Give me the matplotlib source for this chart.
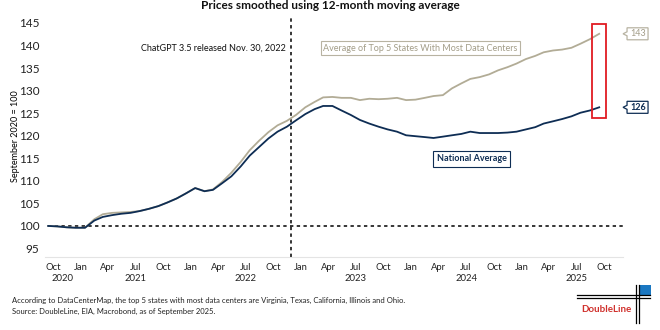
import matplotlib
matplotlib.use("Agg")
import matplotlib.pyplot as plt
import matplotlib.dates as mdates
from matplotlib.patches import Rectangle, Polygon
from matplotlib.transforms import blended_transform_factory
import numpy as np
import pandas as pd

plt.rcParams['font.family'] = ['Lato', 'DejaVu Sans']

# monthly index values, Sep 2020 = 100, 12-month moving average
months = pd.date_range('2020-09-01', '2025-09-01', freq='MS') + pd.Timedelta(days=14)
national = [100.0, 99.9, 99.7, 99.6, 99.6, 101.2, 102.0, 102.4, 102.7, 102.9,
            103.3, 103.8, 104.4, 105.2, 106.1, 107.2, 108.4, 107.7, 108.0, 109.5,
            111.0, 113.2, 115.6, 117.5, 119.4, 120.9, 122.0, 123.4, 124.8, 125.9,
            126.6, 126.6, 125.6, 124.6, 123.5, 122.7, 122.0, 121.4, 120.9, 120.1,
            119.9, 119.7, 119.5, 119.8, 120.1, 120.4, 120.9, 120.6, 120.6, 120.6,
            120.7, 120.9, 121.4, 121.9, 122.7, 123.2, 123.7, 124.3, 125.1, 125.6,
            126.3]
top5 = [100.0, 99.9, 99.7, 99.6, 99.6, 101.5, 102.6, 102.9, 103.0, 103.1,
        103.3, 103.8, 104.4, 105.2, 106.1, 107.2, 108.4, 107.7, 108.1, 109.8,
        111.8, 114.2, 116.8, 118.9, 120.8, 122.3, 123.3, 124.6, 126.3, 127.5,
        128.5, 128.6, 128.4, 128.4, 127.9, 128.2, 128.1, 128.2, 128.4, 127.9,
        128.0, 128.4, 128.8, 129.0, 130.5, 131.6, 132.6, 133.0, 133.6, 134.5,
        135.2, 136.0, 137.0, 137.7, 138.5, 138.9, 139.1, 139.5, 140.4, 141.4,
        142.6]
yticks = [95, 100, 105, 110, 115, 120, 125, 130, 135, 140, 145]
xticks = pd.date_range('2020-10-01', '2025-10-01', freq='3MS')
year_labels = ['2020', '2021', '2022', '2023', '2024', '2025']
year_pos = pd.to_datetime(['2020-11-01', '2021-07-01', '2022-07-01',
                           '2023-07-01', '2024-07-01', '2025-07-01'])
chatgpt_date = pd.Timestamp('2022-11-30')

NAVY = '#0e2d54'
TAN = '#b2ac96'
RED = '#e11b22'

fig = plt.figure(figsize=(6.6, 3.3), dpi=100)
ax = fig.add_axes([0.068, 0.221, 0.876, 0.734])

x_left = pd.Timestamp('2020-09-04')
x_right = pd.Timestamp('2025-12-03')
ax.set_xlim(x_left, x_right)
ax.set_ylim(93.1, 146.8)

ax.plot(months, top5, color=TAN, lw=1.3, zorder=3)
ax.plot(months, national, color=NAVY, lw=1.3, zorder=4)

ax.hlines(100, months[0], x_right, colors='black', linestyles=(0, (2.2, 2.2)), lw=1.1, zorder=2)
ax.axvline(chatgpt_date, color='black', ls=(0, (2.2, 2.2)), lw=1.1, zorder=2)

ax.set_yticks(yticks)
ax.set_xticks(xticks)
ax.set_xticklabels([d.strftime('%b') for d in xticks])
ax.tick_params(axis='x', length=0, labelsize=6.8, pad=4, colors='#222222')
ax.tick_params(axis='y', length=0, labelsize=8.5, pad=4, colors='#222222')
for s in ['top', 'right', 'left']:
    ax.spines[s].set_visible(False)
ax.spines['bottom'].set_color('#e4e4e4')
ax.spines['bottom'].set_linewidth(0.8)

trans = blended_transform_factory(ax.transData, ax.transAxes)
for lab, pos in zip(year_labels, year_pos):
    ax.text(pos, -0.087, lab, transform=trans, ha='center', va='center',
            fontsize=6.8, color='#222222')

ax.set_ylabel('September 2020 = 100', fontsize=6.5)
ax.yaxis.set_label_coords(-25 / 578, 0.5)

ax.text(pd.Timestamp('2022-11-10'), 139.3, 'ChatGPT 3.5 released Nov. 30, 2022',
        ha='right', va='center', fontsize=6.5, color='#111111')

ax.text(pd.Timestamp('2024-02-01'), 139.4, 'Average of Top 5 States With Most Data Centers',
        ha='center', va='center', fontsize=6.5, color='#a39d88',
        bbox=dict(boxstyle='square,pad=0.3', fc='white', ec='#b8b3a2', lw=0.8))
ax.text(pd.Timestamp('2024-07-20'), 114.9, 'National Average',
        ha='center', va='center', fontsize=6.5, color=NAVY, fontweight='bold',
        bbox=dict(boxstyle='square,pad=0.4', fc='white', ec=NAVY, lw=0.8))

# highlight around the latest month
last = months[-1]
ax.add_patch(Rectangle((mdates.date2num(last - pd.Timedelta(days=24)), 124.0),
                       48, 20.8, fill=False, ec=RED, lw=1.3, zorder=5, clip_on=False))

# callout tags for the latest values
fig.canvas.draw()
for val, col, tcol, bold in [(top5[-1], '#b8b3a2', '#a39d88', 'normal'),
                             (national[-1], NAVY, NAVY, 'bold')]:
    px, py = ax.transData.transform((mdates.date2num(x_right), val))
    x0, w, h, n = px + 4, 21, 12, 4
    pts = [(x0, py - h / 2), (x0 + w, py - h / 2), (x0 + w, py + h / 2), (x0, py + h / 2),
           (x0, py + 2), (x0 - n, py), (x0, py - 2)]
    fig.patches.append(Polygon(pts, closed=True, fc='white', ec=col, lw=0.9,
                               transform=None, figure=fig))
    fig.text((x0 + w / 2 + 0.5) / 660, py / 330, f'{val:.0f}', ha='center', va='center',
             fontsize=6.5, color=tcol, fontweight=bold)

fig.text(0.5, 1 - 9 / 330, 'Prices smoothed using 12-month moving average',
         ha='center', va='baseline', fontsize=8.5, fontweight='bold', color='#111111')

fig.text(12 / 660, 1 - 300 / 330,
         'According to DataCenterMap, the top 5 states with most data centers are '
         'Virginia, Texas, California, Illinois and Ohio.',
         ha='left', va='center', fontsize=5.5, color='#222222')
fig.text(12 / 660, 1 - 311 / 330, 'Source: DoubleLine, EIA, Macrobond, as of September 2025.',
         ha='left', va='center', fontsize=5.5, color='#222222')

# DoubleLine mark
def fx(p):
    return p / 660

def fy(p):
    return 1 - p / 330

for yy in (295, 297.6):
    fig.add_artist(plt.Line2D([fx(577), fx(650)], [fy(yy), fy(yy)], color='black', lw=0.9))
for xx in (636, 638.8):
    fig.add_artist(plt.Line2D([fx(xx), fx(xx)], [fy(285), fy(323)], color='black', lw=0.9))
fig.add_artist(Rectangle((fx(639.5), fy(294.5)), fx(11), 9.5 / 330, color='#1b78c2', lw=0))
fig.text(fx(606), fy(309), 'DoubleLine', ha='center', va='center', fontsize=7,
         fontweight='bold', color='#d0312d')

fig.savefig('out.png', dpi=100)
